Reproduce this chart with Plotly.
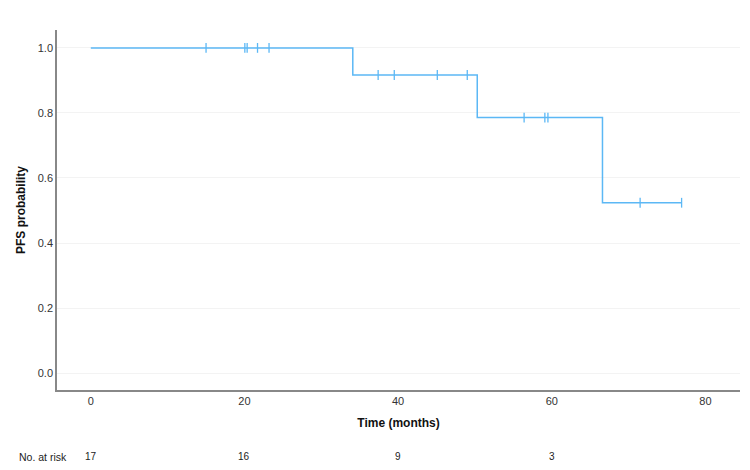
import plotly.graph_objects as go

# Kaplan-Meier step data
step_times = [0, 34.1, 34.1, 50.3, 50.3, 66.6, 66.6, 76.9]
step_surv = [1.0, 1.0, 0.9167, 0.9167, 0.7857, 0.7857, 0.5238, 0.5238]

# Censored observations
cens_times = [15.0, 20.05, 20.35, 21.7, 23.2, 37.4, 39.5, 45.1, 49.0, 56.4, 59.1, 59.5, 71.5, 76.9]
cens_surv = [1.0, 1.0, 1.0, 1.0, 1.0, 0.9167, 0.9167, 0.9167, 0.9167, 0.7857, 0.7857, 0.7857, 0.5238, 0.5238]

# Number at risk
risk_times = [0, 20, 40, 60]
risk_counts = [17, 16, 9, 3]

x_ticks = [0, 20, 40, 60, 80]
y_ticks = [0.0, 0.2, 0.4, 0.6, 0.8, 1.0]

color = "#5cb8f5"
fig = go.Figure()
fig.add_trace(go.Scatter(x=step_times, y=step_surv, mode="lines",
                         line=dict(color=color, width=1.5), showlegend=False))
fig.add_trace(go.Scatter(x=cens_times, y=cens_surv, mode="markers",
                         marker=dict(symbol="line-ns", size=7,
                                     line=dict(color=color, width=1.3)),
                         showlegend=False))

for t, n in zip(risk_times, risk_counts):
    fig.add_annotation(x=t, y=-0.186, xref="x", yref="paper", text=str(n),
                       showarrow=False, xanchor="center", yanchor="middle",
                       font=dict(size=10, color="#222"))
fig.add_annotation(x=-0.058, y=-0.186, xref="paper", yref="paper", text="No. at risk",
                   showarrow=False, xanchor="left", yanchor="middle",
                   font=dict(size=10.5, color="#222"))

fig.update_layout(
    width=750, height=470,
    margin=dict(l=57, r=10, t=30, b=80),
    paper_bgcolor="white", plot_bgcolor="white",
    font=dict(family="Liberation Sans, Arial, sans-serif", size=11, color="#333"),
    xaxis=dict(range=[-4.4, 84.5], tickvals=x_ticks, showgrid=False,
               showline=True, linecolor="#888", linewidth=1.5, zeroline=False,
               ticks="", tickfont=dict(size=11, color="#333"),
               title=dict(text="<b>Time (months)</b>", font=dict(size=12, color="#111"),
                          standoff=13)),
    yaxis=dict(range=[-0.052, 1.055], tickvals=y_ticks, tickformat=".1f",
               showgrid=True, gridcolor="#f3f3f3", gridwidth=1,
               showline=True, linecolor="#888", linewidth=1.5, zeroline=False,
               ticks="", tickfont=dict(size=11, color="#333"),
               title=dict(text="<b>PFS probability</b>", font=dict(size=12, color="#111"),
                          standoff=10)),
)

fig.write_html("out.html")
